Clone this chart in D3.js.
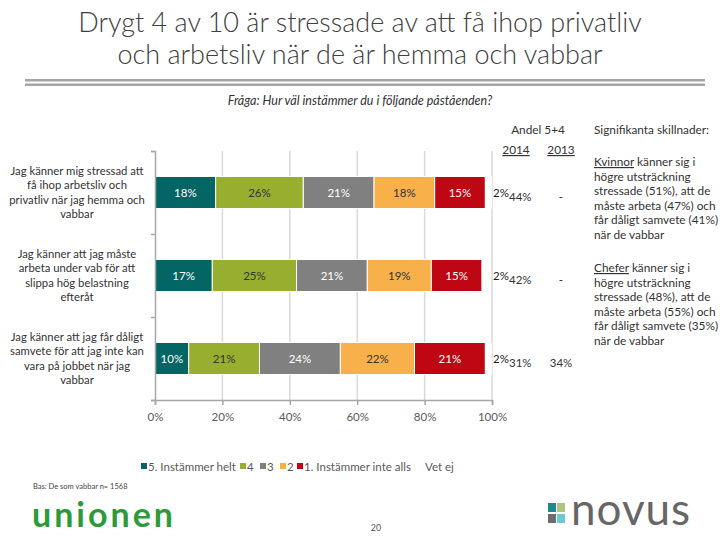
<!DOCTYPE html>
<html><head><meta charset="utf-8">
<script src="https://cdn.jsdelivr.net/npm/d3@7"></script>
<style>body{margin:0;background:#fff}svg{display:block}text{font-family:Lato,"Open Sans",sans-serif}</style>
</head><body>
<svg id="c" width="720" height="540"></svg>
<script>
const categories = [
  ["Jag känner mig stressad att","få ihop arbetsliv och","privatliv när jag hemma och","vabbar"],
  ["Jag känner att jag måste","arbeta under vab för att","slippa hög belastning","efteråt"],
  ["Jag känner att jag får dåligt","samvete för att jag inte kan","vara på jobbet när jag","vabbar"]
];
const seriesNames = ["5. Instämmer helt","4","3","2","1. Instämmer inte alls","Vet ej"];
const s5 = [18,17,10];
const s4 = [26,25,21];
const s3 = [21,21,24];
const s2 = [18,19,22];
const s1 = [15,15,21];
const vetej = [2,2,2];
const andel2014 = ["44%","42%","31%"];
const andel2013 = ["-","-","34%"];
const xTicks = [0,20,40,60,80,100];
const colors = ["#036564","#98AE2E","#808080","#F8B04B","#BE0712","#FFFFFF"];
const labelColors = ["#ffffff","#333333","#ffffff","#333333","#ffffff","#222222"];

const svg = d3.select("#c");
const series = [s5,s4,s3,s2,s1,vetej];
const ids = [0,1,2];

// Title
const title = svg.append("g").attr("fill","#404040").attr("font-size",27).attr("font-weight",300).attr("text-anchor","middle");
title.append("text").attr("x",360).attr("y",32).text("Drygt 4 av 10 är stressade av att få ihop privatliv");
title.append("text").attr("x",360).attr("y",64).text("och arbetsliv när de är hemma och vabbar");
svg.append("rect").attr("x",25).attr("y",79).attr("width",680).attr("height",2.5).attr("fill","#a6a6a6");
svg.append("rect").attr("x",25).attr("y",83.5).attr("width",680).attr("height",2.5).attr("fill","#a6a6a6");

svg.append("text").attr("x",360).attr("y",105).attr("text-anchor","middle").attr("font-size",12.5)
  .attr("font-style","italic").attr("fill","#333").text("Fråga: Hur väl instämmer du i följande påståenden?");

const x = d3.scaleLinear().domain([0,100]).range([155,492]);
const y = d3.scaleBand().domain(ids).range([151,400]).paddingInner(0.614).paddingOuter(0.307);

// gridlines
svg.append("g").selectAll("line").data(xTicks.slice(1)).join("line")
  .attr("x1",d=>x(d)).attr("x2",d=>x(d)).attr("y1",151).attr("y2",400)
  .attr("stroke","#d9d9d9").attr("stroke-width",1.5);

// stacked bars
const table = ids.map(i=>{const o={id:i}; series.forEach((s,k)=>o["k"+k]=s[i]); return o;});
const stack = d3.stack().keys(series.map((s,k)=>"k"+k))(table);
const gBars = svg.append("g");
stack.forEach((layer,k)=>{
  gBars.selectAll(".b"+k).data(layer).join("rect")
    .attr("x",d=>x(d[0])).attr("width",d=>x(d[1])-x(d[0]))
    .attr("y",d=>y(d.data.id)).attr("height",y.bandwidth())
    .attr("fill",colors[k]).attr("stroke","#fff").attr("stroke-width",k<5?1:0);
  gBars.selectAll(".l"+k).data(layer).join("text")
    .attr("x",d=> k<5 ? (x(d[0])+x(d[1]))/2 : x(100)+1)
    .attr("y",d=>y(d.data.id)+y.bandwidth()/2+4)
    .attr("text-anchor",k<5?"middle":"start")
    .attr("font-size",11.5).attr("fill",labelColors[k])
    .text(d=>(d[1]-d[0])+"%");
});

// axes
const xAxis = d3.axisBottom(x).tickValues(xTicks).tickFormat(d=>d+"%").tickSize(5).tickPadding(8);
const gx = svg.append("g").attr("transform","translate(0,400)").call(xAxis);
gx.select(".domain").attr("stroke","#a6a6a6").attr("stroke-width",1.5);
gx.selectAll(".tick line").attr("stroke","#a6a6a6").attr("stroke-width",1.5);
gx.selectAll("text").attr("font-size",11.5).attr("fill","#595959").attr("font-family","Lato, sans-serif");

const yAxis = d3.axisLeft(d3.scaleLinear().domain([0,3]).range([400,151])).tickValues([0,1,2,3]).tickFormat("").tickSize(4);
const gy = svg.append("g").attr("transform","translate(155,0)").call(yAxis);
gy.select(".domain").attr("stroke","#a6a6a6").attr("stroke-width",1.5);
gy.selectAll(".tick line").attr("stroke","#a6a6a6").attr("stroke-width",1.5);

// category labels
const gc = svg.append("g").attr("font-size",11.3).attr("fill","#333").attr("text-anchor","middle");
categories.forEach((lines,i)=>{
  const cy = y(i)+y.bandwidth()/2;
  const t = gc.append("text");
  lines.forEach((ln,j)=>{
    t.append("tspan").attr("x",77).attr("y",cy + (j-(lines.length-1)/2)*14.2 + 4).text(ln);
  });
});

// right side header
const gr = svg.append("g").attr("font-size",11.8).attr("fill","#333");
gr.append("text").attr("x",538).attr("y",134).attr("text-anchor","middle").text("Andel 5+4");
gr.append("text").attr("x",516).attr("y",154).attr("text-anchor","middle").attr("text-decoration","underline").text("2014");
gr.append("text").attr("x",561).attr("y",154).attr("text-anchor","middle").attr("text-decoration","underline").text("2013");
gr.append("text").attr("x",594).attr("y",134).text("Signifikanta skillnader:");
ids.forEach(i=>{
  const cy = y(i)+y.bandwidth()/2;
  gr.append("text").attr("x",509).attr("y",cy+8).attr("font-size",11.5).text(andel2014[i]);
  gr.append("text").attr("x",561).attr("y",cy+8).attr("font-size",11.5).attr("text-anchor","middle").text(andel2013[i]);
});

const notes = [
  {y:166, first:"Kvinnor", lines:[" känner sig i","högre utsträckning","stressade (51%), att de","måste arbeta (47%) och","får dåligt samvete (41%)","när de vabbar"]},
  {y:272, first:"Chefer", lines:[" känner sig  i","högre utsträckning","stressade (48%), att de","måste arbeta (55%) och","får dåligt samvete (35%)","när de vabbar"]}
];
notes.forEach(n=>{
  const t = gr.append("text");
  const t0 = t.append("tspan").attr("x",594).attr("y",n.y);
  t0.append("tspan").attr("text-decoration","underline").text(n.first);
  t0.append("tspan").text(n.lines[0]);
  n.lines.slice(1).forEach((ln,j)=>{
    t.append("tspan").attr("x",594).attr("y",n.y+(j+1)*14.6).text(ln);
  });
});

// legend
const legItems = [
  {name:seriesNames[0],x:141},{name:seriesNames[1],x:240},{name:seriesNames[2],x:260},
  {name:seriesNames[3],x:280},{name:seriesNames[4],x:297},{name:seriesNames[5],x:418}
];
const gl = svg.append("g");
legItems.forEach((d,k)=>{
  gl.append("rect").attr("x",d.x).attr("y",463).attr("width",6).attr("height",6).attr("fill",colors[k]);
  gl.append("text").attr("x",d.x+7).attr("y",470.5).attr("font-size",11.5).attr("fill","#595959").text(d.name);
});

// footer
svg.append("text").attr("x",33).attr("y",489).attr("font-size",7.5).attr("fill","#444").text("Bas: De som vabbar n= 1568");
svg.append("text").attr("x",32).attr("y",527).attr("font-size",34).attr("font-weight","bold").attr("fill","#2d9a3a")
  .attr("font-family","'DejaVu Sans', sans-serif").attr("letter-spacing",3).text("unionen");
svg.append("text").attr("x",376).attr("y",531).attr("font-size",9).attr("fill","#555").attr("text-anchor","middle").text("20");
const nov = svg.append("g");
[["#1d8a8c",548,503],["#b0c481",557,503],["#6d6d6d",548,514],["#6ac9d4",557,514]].forEach(s=>{
  nov.append("rect").attr("x",s[1]).attr("y",s[2]).attr("width",8).attr("height",9).attr("fill",s[0]);
});
nov.append("text").attr("x",571).attr("y",525).attr("font-size",44).attr("fill","#666")
  .attr("font-family","'Liberation Serif', serif").attr("letter-spacing",1).text("novus");
</script>
</body></html>
